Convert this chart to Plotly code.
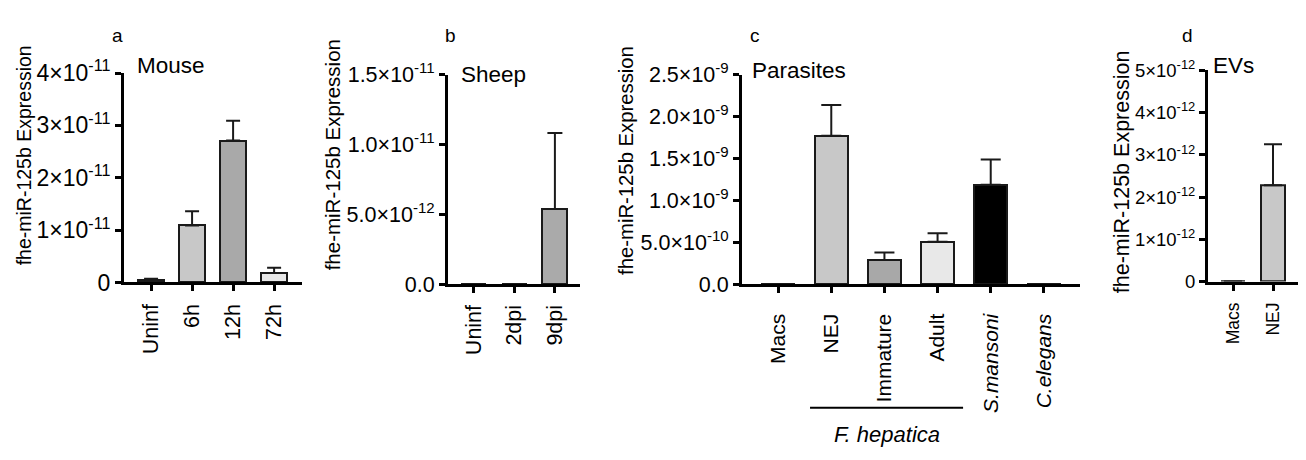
import plotly.graph_objects as go

# ---------------- data ----------------
mouse_cats = ["Uninf", "6h", "12h", "72h"]
mouse_vals = [0.04e-11, 1.09e-11, 2.71e-11, 0.18e-11]
mouse_err = [0.03e-11, 0.27e-11, 0.38e-11, 0.10e-11]
mouse_colors = ["#2a2a2a", "#c8c8c8", "#a9a9a9", "#e8e8e8"]
mouse_ticks = [0, 1e-11, 2e-11, 3e-11, 4e-11]
mouse_ticktext = ["0", "1×10<sup>-11</sup>", "2×10<sup>-11</sup>", "3×10<sup>-11</sup>", "4×10<sup>-11</sup>"]

sheep_cats = ["Uninf", "2dpi", "9dpi"]
sheep_vals = [0.0, 0.0, 5.4e-12]
sheep_err = [0.0, 0.0, 5.45e-12]
sheep_colors = ["#aaaaaa", "#aaaaaa", "#aaaaaa"]
sheep_ticks = [0, 5e-12, 1.0e-11, 1.5e-11]
sheep_ticktext = ["0.0", "5.0×10<sup>-12</sup>", "1.0×10<sup>-11</sup>", "1.5×10<sup>-11</sup>"]

para_cats = ["Macs", "NEJ", "Immature", "Adult", "<i>S.mansoni</i>", "<i>C.elegans</i>"]
para_vals = [0.0, 1.775e-9, 0.29e-9, 0.51e-9, 1.19e-9, 0.0]
para_err = [0.0, 0.365e-9, 0.09e-9, 0.10e-9, 0.30e-9, 0.0]
para_colors = ["#c8c8c8", "#c8c8c8", "#a8a8a8", "#e8e8e8", "#000000", "#c8c8c8"]
para_ticks = [0, 0.5e-9, 1.0e-9, 1.5e-9, 2.0e-9, 2.5e-9]
para_ticktext = ["0.0", "5.0×10<sup>-10</sup>", "1.0×10<sup>-9</sup>", "1.5×10<sup>-9</sup>",
                 "2.0×10<sup>-9</sup>", "2.5×10<sup>-9</sup>"]

ev_cats = ["Macs", "NEJ"]
ev_vals = [0.0, 2.28e-12]
ev_err = [0.0, 0.97e-12]
ev_colors = ["#c8c8c8", "#c8c8c8"]
ev_ticks = [0, 1e-12, 2e-12, 3e-12, 4e-12, 5e-12]
ev_ticktext = ["0", "1×10<sup>-12</sup>", "2×10<sup>-12</sup>", "3×10<sup>-12</sup>",
               "4×10<sup>-12</sup>", "5×10<sup>-12</sup>"]

ytitle = "fhe-miR-125b Expression"

# ---------------- layout helpers ----------------
W, H = 1306, 460
FONT = "Liberation Sans, Arial, Helvetica, sans-serif"


def px_x(x):
    return x / W


def px_y(y):
    return 1 - y / H


panels = [
    # cats, vals, err, colors, ticks, ticktext, box(x0,x1,ytop,ybot), xrange, yrange,
    # bar width, y tick font, x tick font, x label standoff, error cap width
    (mouse_cats, mouse_vals, mouse_err, mouse_colors, mouse_ticks, mouse_ticktext,
     (124, 302, 60, 284), [-0.66, 3.68], [0, 4e-11], 0.63, 23, 21.5, 4, 7),
    (sheep_cats, sheep_vals, sheep_err, sheep_colors, sheep_ticks, sheep_ticktext,
     (448, 580, 62, 286), [-0.64, 2.62], [0, 1.5e-11], 0.62, 21.5, 21.5, 3, 7.5),
    (para_cats, para_vals, para_err, para_colors, para_ticks, para_ticktext,
     (742, 1080, 62, 286), [-0.68, 5.68], [0, 2.5e-9], 0.63, 21.5, 21, 12, 10),
    (ev_cats, ev_vals, ev_err, ev_colors, ev_ticks, ev_ticktext,
     (1208, 1298, 57, 283), [-0.625, 1.625], [0, 5e-12], 0.6, 18.5, 17.5, 5, 9),
]

fig = go.Figure()
layout = dict(
    width=W, height=H,
    margin=dict(l=0, r=0, t=0, b=0),
    plot_bgcolor="white", paper_bgcolor="white",
    showlegend=False,
    font=dict(family=FONT, color="black", size=20),
    bargap=0,
)

for i, (cats, vals, err, cols, ticks, ttext, box, xr, yr, bw, yfs, xfs, stand, capw) in enumerate(panels, start=1):
    xa = "x" if i == 1 else f"x{i}"
    ya = "y" if i == 1 else f"y{i}"
    fig.add_trace(go.Bar(
        x=cats, y=vals, width=bw,
        marker=dict(color=cols, line=dict(color="#1a1a1a", width=2)),
        error_y=dict(type="data", array=err, arrayminus=[0] * len(err), symmetric=False,
                     color="#1a1a1a", thickness=2, width=capw),
        xaxis=xa, yaxis=ya,
    ))
    x0, x1, yt, yb = box
    layout[f"xaxis{'' if i == 1 else i}"] = dict(
        domain=[px_x(x0), px_x(x1)], anchor=ya, range=xr,
        type="category", categoryorder="array", categoryarray=cats,
        showline=True, linewidth=3, linecolor="black",
        ticks="outside", ticklen=6, tickwidth=3, tickcolor="black",
        tickangle=-90, tickfont=dict(size=xfs), ticklabelstandoff=stand,
        showgrid=False, zeroline=False, fixedrange=True,
    )
    layout[f"yaxis{'' if i == 1 else i}"] = dict(
        domain=[px_y(yb), px_y(yt)], anchor=xa, range=yr,
        tickvals=ticks, ticktext=ttext,
        showline=True, linewidth=3, linecolor="black",
        ticks="outside", ticklen=6, tickwidth=3, tickcolor="black",
        tickfont=dict(size=yfs),
        showgrid=False, zeroline=False, fixedrange=True,
    )

fig.update_layout(**layout)

annos = []
# y-axis titles
for (xc, yc, fs) in [(24, 148, 19.5), (332, 148, 20.5), (626, 154, 20.3), (1122, 166, 21.5)]:
    annos.append(dict(text=ytitle, x=px_x(xc), y=px_y(yc), xref="paper", yref="paper",
                      textangle=-90, showarrow=False, xanchor="center", yanchor="middle",
                      font=dict(size=fs)))
# panel titles
for (txt, xl, yc, fs) in [("Mouse", 135, 52, 22.5), ("Sheep", 459, 62, 22.5),
                          ("Parasites", 750, 57, 22.5), ("EVs", 1211, 52, 22.5)]:
    annos.append(dict(text=txt, x=px_x(xl), y=px_y(yc), xref="paper", yref="paper",
                      showarrow=False, xanchor="left", yanchor="middle", font=dict(size=fs)))
# panel letters
for (txt, xc, yc) in [("a", 118, 20), ("b", 450, 20), ("c", 755, 20), ("d", 1187, 20)]:
    annos.append(dict(text=txt, x=px_x(xc), y=px_y(yc), xref="paper", yref="paper",
                      showarrow=False, xanchor="center", yanchor="middle", font=dict(size=19)))
# F. hepatica group label
annos.append(dict(text="<i>F. hepatica</i>", x=2.05, xref="x3", y=px_y(447), yref="paper",
                  showarrow=False, xanchor="center", yanchor="middle", font=dict(size=22)))
fig.update_layout(annotations=annos)

fig.add_shape(type="line", xref="x3", yref="paper", x0=0.6, x1=3.48,
              y0=px_y(418), y1=px_y(418), line=dict(color="black", width=2))

fig.write_html("out.html")
